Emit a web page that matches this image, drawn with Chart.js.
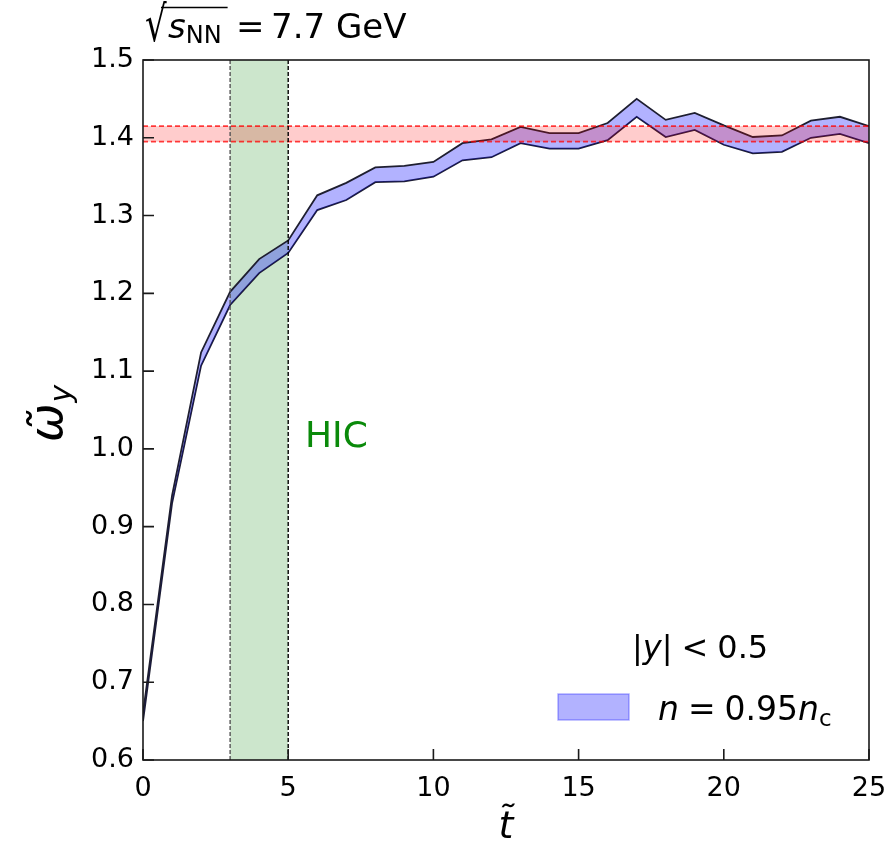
<!DOCTYPE html>
<html>
<head>
<meta charset="utf-8">
<script src="https://cdn.jsdelivr.net/npm/chart.js@4.4.0/dist/chart.umd.min.js"></script>
<style>
  html, body { margin: 0; padding: 0; background: #ffffff; }
  #wrap { width: 884px; height: 843px; position: relative; }
</style>
</head>
<body>
<div id="wrap"><canvas id="c" width="884" height="843"></canvas></div>
<script>
// ---- data ----
const tValues = [0, 1, 2, 3, 4, 5, 6, 7, 8, 9, 10, 11, 12, 13, 14, 15, 16, 17, 18, 19, 20, 21, 22, 23, 24, 25];
const bandUpper = [0.66, 0.94, 1.124, 1.202, 1.244, 1.268, 1.326, 1.342, 1.362, 1.364, 1.369, 1.393, 1.398, 1.414, 1.406, 1.406, 1.419, 1.450, 1.423, 1.432, 1.416, 1.401, 1.403, 1.422, 1.427, 1.415];
const bandLower = [0.65, 0.93, 1.107, 1.185, 1.226, 1.252, 1.307, 1.320, 1.343, 1.344, 1.350, 1.371, 1.375, 1.393, 1.386, 1.386, 1.397, 1.427, 1.401, 1.410, 1.391, 1.380, 1.382, 1.400, 1.405, 1.393];
const refBand = [1.395, 1.415];     // red reference band (lower, upper)
const hicRange = [3, 5];            // green HIC window in t
const xRange = [0, 25];
const yRange = [0.6, 1.5];
const xTickStep = 5;
const yTickStep = 0.1;

const FONT = "'DejaVu Sans', sans-serif";

function pts(xs, ys) { return xs.map((x, i) => ({ x: x, y: ys[i] })); }

function runs(ctx, x, y, list) {
  let cx = x;
  for (const r of list) {
    ctx.font = r.font;
    ctx.fillText(r.t, cx, y + (r.dy || 0));
    const w = ctx.measureText(r.t).width;
    cx += w + (r.gap || 0);
  }
  return cx;
}

const decor = {
  id: 'decor',
  afterDraw(chart) {
    const { ctx, chartArea: a, scales: { x, y } } = chart;
    ctx.save();
    // axis frame
    ctx.strokeStyle = '#1a1a1a';
    ctx.lineWidth = 1.6;
    ctx.strokeRect(a.left, a.top, a.right - a.left, a.bottom - a.top);
    // inward tick marks
    ctx.beginPath();
    y.ticks.forEach(t => { const py = y.getPixelForValue(t.value); ctx.moveTo(a.left, py); ctx.lineTo(a.left + 11, py); });
    x.ticks.forEach(t => { const px = x.getPixelForValue(t.value); ctx.moveTo(px, a.bottom); ctx.lineTo(px, a.bottom - 11); });
    ctx.stroke();

    ctx.fillStyle = '#000';
    ctx.textBaseline = 'alphabetic';
    ctx.textAlign = 'left';

    // title: sqrt(s_NN) = 7.7 GeV
    ctx.save();
    ctx.translate(145, 41);
    ctx.scale(1, 1.45);
    ctx.font = '34px ' + FONT;
    ctx.fillText('\u221A', 0, 0);
    ctx.restore();
    let cx = runs(ctx, 168, 38, [
      { t: 's', font: 'italic 34px ' + FONT },
      { t: 'NN', font: '24px ' + FONT, dy: 5 }
    ]);
    ctx.beginPath();
    ctx.strokeStyle = '#000';
    ctx.lineWidth = 1.4;
    ctx.moveTo(161, 7.5); ctx.lineTo(cx + 6, 7.5);
    ctx.stroke();
    ctx.font = '34px ' + FONT;
    ctx.fillText('=', 236, 38);
    ctx.fillText('7.7 GeV', 271, 38);

    // HIC label
    ctx.fillStyle = '#0a8a0a';
    ctx.font = '36px ' + FONT;
    ctx.fillText('HIC', 305, 447);

    // legend
    ctx.fillStyle = '#000';
    runs(ctx, 632, 658, [
      { t: '|', font: '32px ' + FONT },
      { t: 'y', font: 'italic 32px ' + FONT },
      { t: '|', font: '32px ' + FONT, gap: 9 },
      { t: '<', font: '32px ' + FONT, gap: 9 },
      { t: '0.5', font: '32px ' + FONT }
    ]);
    ctx.fillStyle = 'rgba(0,0,255,0.3)';
    ctx.strokeStyle = 'rgba(0,0,255,0.3)';
    ctx.lineWidth = 1.5;
    ctx.fillRect(558, 694, 71, 26);
    ctx.strokeRect(558, 694, 71, 26);
    ctx.fillStyle = '#000';
    runs(ctx, 658, 720, [
      { t: 'n', font: 'italic 33px ' + FONT, gap: 9 },
      { t: '=', font: '33px ' + FONT, gap: 9 },
      { t: '0.95', font: '33px ' + FONT },
      { t: 'n', font: 'italic 33px ' + FONT },
      { t: 'c', font: '23px ' + FONT, dy: 6 }
    ]);

    // x axis title
    ctx.textAlign = 'center';
    ctx.font = 'italic 38px ' + FONT;
    ctx.fillText('t\u0303', (a.left + a.right) / 2, 838);

    // y axis title (rotated)
    ctx.translate(62, 442);
    ctx.rotate(-Math.PI / 2);
    ctx.textAlign = 'left';
    ctx.font = 'italic 46px ' + FONT;
    ctx.fillText('\u03C9\u0303', 0, 0);
    const ww = ctx.measureText('\u03C9\u0303').width;
    ctx.font = 'italic 30px ' + FONT;
    ctx.fillText('y', ww + 1, 9);
    ctx.restore();
  }
};

const noLine = { pointRadius: 0, pointHoverRadius: 0, tension: 0 };
const edge = '#1e1e30';

new Chart(document.getElementById('c'), {
  type: 'line',
  data: {
    datasets: [
      // HIC window fill
      Object.assign({ data: [{ x: hicRange[0], y: yRange[1] }, { x: hicRange[1], y: yRange[1] }],
        borderWidth: 0, borderColor: 'rgba(0,0,0,0)', fill: 'start', backgroundColor: 'rgba(0,128,0,0.2)', order: 5 }, noLine),
      // blue band
      Object.assign({ data: pts(tValues, bandUpper), borderColor: edge, borderWidth: 1.8,
        fill: '+1', backgroundColor: 'rgba(0,0,255,0.3)', order: 4 }, noLine),
      Object.assign({ data: pts(tValues, bandLower), borderColor: edge, borderWidth: 1.8,
        fill: false, order: 4 }, noLine),
      // red reference band
      Object.assign({ data: [{ x: xRange[0], y: refBand[1] }, { x: xRange[1], y: refBand[1] }],
        borderColor: 'rgba(255,0,0,0.75)', borderWidth: 1.7, borderDash: [5, 3],
        fill: '+1', backgroundColor: 'rgba(255,0,0,0.2)', order: 3 }, noLine),
      Object.assign({ data: [{ x: xRange[0], y: refBand[0] }, { x: xRange[1], y: refBand[0] }],
        borderColor: 'rgba(255,0,0,0.75)', borderWidth: 1.7, borderDash: [5, 3], fill: false, order: 3 }, noLine),
      // HIC window edges
      Object.assign({ data: [{ x: hicRange[0], y: yRange[0] }, { x: hicRange[0], y: yRange[1] }],
        borderColor: '#555555', borderWidth: 1.4, borderDash: [4, 2], fill: false, order: 1 }, noLine),
      Object.assign({ data: [{ x: hicRange[1], y: yRange[0] }, { x: hicRange[1], y: yRange[1] }],
        borderColor: '#000000', borderWidth: 1.4, borderDash: [4, 2], fill: false, order: 1 }, noLine)
    ]
  },
  options: {
    responsive: false,
    animation: false,
    events: [],
    layout: { padding: { top: 60, right: 15, left: 0, bottom: 0 } },
    plugins: { legend: { display: false }, tooltip: { enabled: false }, title: { display: false } },
    scales: {
      x: {
        type: 'linear', min: xRange[0], max: xRange[1],
        grid: { display: false }, border: { display: false },
        ticks: { stepSize: xTickStep, color: '#000', font: { family: FONT, size: 27 }, padding: 5, maxRotation: 0 },
        afterFit: s => { s.height = 83; s.paddingLeft = 0; s.paddingRight = 0; }
      },
      y: {
        type: 'linear', min: yRange[0], max: yRange[1],
        grid: { display: false }, border: { display: false },
        ticks: { stepSize: yTickStep, color: '#000', font: { family: FONT, size: 27 }, padding: 1,
          callback: v => Number(v).toFixed(1) },
        afterFit: s => { s.width = 143; s.paddingTop = 0; s.paddingBottom = 0; }
      }
    }
  },
  plugins: [decor]
});
</script>
</body>
</html>
